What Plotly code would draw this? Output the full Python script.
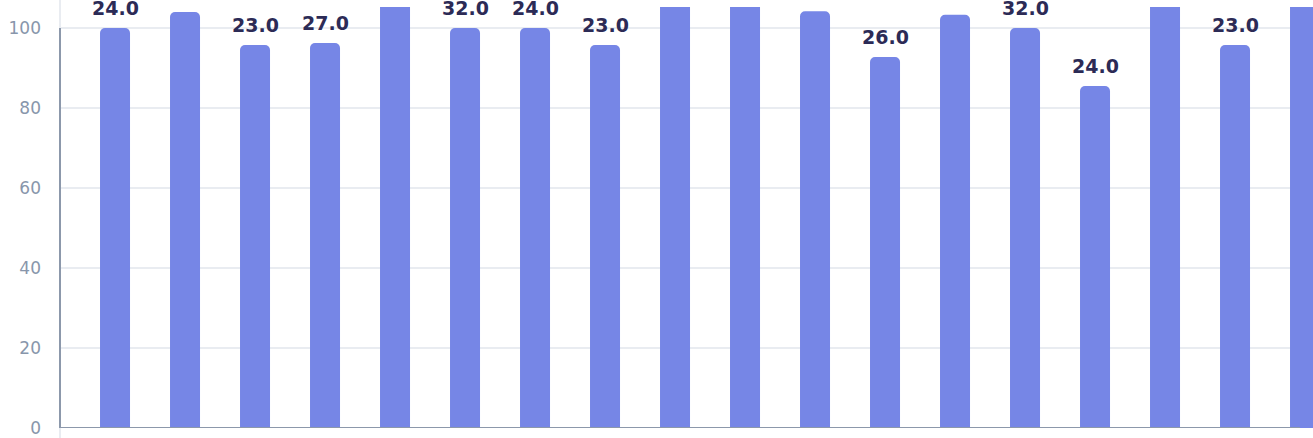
import plotly.graph_objects as go

categories = ["A1", "A2", "A3", "A4", "A5", "A6", "A7", "A8", "A9",
              "A10", "A11", "A12", "A13", "A14", "A15", "A16", "A17", "A18"]
values = [100, 104, 95.75, 96.25, 108, 100, 100, 95.75, 108,
          108, 104.2, 92.75, 103.3, 100, 85.5, 108, 95.75, 108]
labels = ["24.0", None, "23.0", "27.0", None, "32.0", "24.0", "23.0", None,
          None, None, "26.0", None, "32.0", "24.0", None, "23.0", None]
y_ticks = [0, 20, 40, 60, 80, 100]

BAR = "#7686e6"
AXIS = "#8c98ab"
GRID = "#e9ecf1"
TICK = "#8896ab"
LABEL = "#2c2b56"

fig = go.Figure()
fig.add_trace(go.Bar(x=categories, y=values,
                     marker=dict(color=BAR, line=dict(width=0), cornerradius=5),
                     hovertemplate="%{x}: %{y}<extra></extra>", showlegend=False))

for c, v, t in zip(categories, values, labels):
    if t is None:
        continue
    fig.add_annotation(x=c, y=v, text=f"<b>{t}</b>", showarrow=False, yanchor="bottom",
                       yshift=7, font=dict(family="DejaVu Sans", size=19, color=LABEL))

fig.update_layout(
    width=1313, height=438,
    margin=dict(l=60, r=0, t=7, b=10),
    paper_bgcolor="white", plot_bgcolor="white",
    bargap=0.5714,
    font=dict(family="DejaVu Sans"),
    xaxis=dict(type="category", categoryorder="array", categoryarray=categories,
               range=[-0.786, 17.114], showticklabels=False, showgrid=False,
               showline=False, zeroline=False, ticks=""),
    yaxis=dict(range=[0, 105.25], tickvals=y_ticks, showgrid=True, gridcolor=GRID,
               gridwidth=2, zeroline=False, showline=False, ticks="",
               ticklabelstandoff=18, tickfont=dict(size=17, color=TICK, family="DejaVu Sans")),
    shapes=[
        dict(type="line", xref="paper", yref="paper", x0=0, x1=0, y0=-0.1, y1=1.1,
             line=dict(color=GRID, width=2), layer="below"),
        dict(type="line", xref="paper", yref="y", x0=0, x1=0, y0=0, y1=100,
             line=dict(color=AXIS, width=2), layer="above"),
        dict(type="line", xref="paper", yref="y", x0=0, x1=0.9896, y0=0, y1=0,
             line=dict(color=AXIS, width=2), layer="above"),
    ],
)

fig.write_html("out.html")
